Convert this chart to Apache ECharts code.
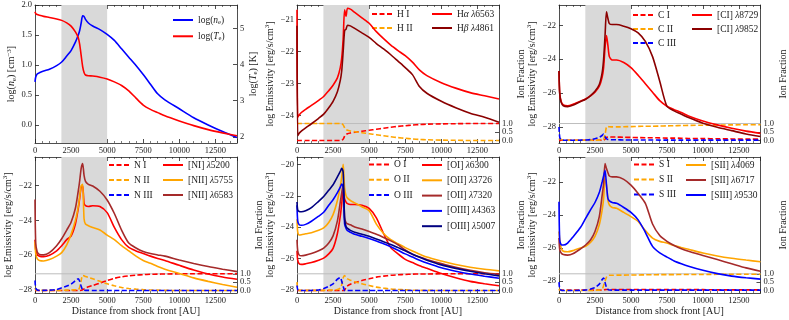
<!DOCTYPE html>
<html>
<head>
<meta charset="utf-8">
<script src="https://cdn.jsdelivr.net/npm/echarts@6/dist/echarts.min.js"></script>
<style>
  html, body { margin: 0; background: #fff; }
  #chart { width: 789px; height: 320px; }
</style>
</head>
<body>
<div id="chart"></div>
<script>
// distance from shock front [AU], shared by every curve
const dist = [0, 50, 150, 300, 600, 1000, 1500, 1850, 2200, 2500, 2800, 3000, 3100, 3200, 3300, 3400, 3500,
  3700, 4000, 4500, 5000, 5500, 6000, 6500, 7000, 7500, 8000, 8500, 9000, 10000, 11000, 12000, 13000, 14000];
const shade = [1830, 5000];

// panel 1: density / temperature
const logNe = [0.72, 0.80, 0.85, 0.87, 0.90, 0.93, 0.99, 1.05, 1.15, 1.24, 1.38, 1.50, 1.58, 1.70, 1.82, 1.81, 1.76,
  1.70, 1.65, 1.59, 1.51, 1.41, 1.27, 1.13, 0.99, 0.84, 0.68, 0.52, 0.42, 0.27, 0.12, 0.00, -0.11, -0.21];
const logTe = [5.46, 5.41, 5.38, 5.36, 5.33, 5.30, 5.26, 5.22, 5.15, 5.06, 4.90, 4.74, 4.55, 4.25, 3.95, 3.78, 3.71,
  3.69, 3.68, 3.65, 3.60, 3.52, 3.42, 3.27, 3.07, 2.88, 2.76, 2.67, 2.58, 2.44, 2.31, 2.20, 2.11, 2.03];

// hydrogen
const hI = [0, 0, 0, 0, 0, 0, 0, 0, 0, 0, 0, 0, 0.01, 0.08, 0.25, 0.35, 0.40,
  0.44, 0.48, 0.54, 0.60, 0.66, 0.72, 0.78, 0.83, 0.87, 0.91, 0.94, 0.96, 0.98, 0.99, 1, 1, 1];
const hII = [1, 1, 1, 1, 1, 1, 1, 1, 1, 1, 1, 1, 0.99, 0.92, 0.75, 0.65, 0.60,
  0.56, 0.52, 0.46, 0.40, 0.34, 0.28, 0.22, 0.17, 0.13, 0.09, 0.06, 0.04, 0.02, 0.01, 0, 0, 0];
const hAlpha = [-20.7, -24.05, -23.98, -23.9, -23.8, -23.68, -23.52, -23.4, -23.22, -23.05, -22.82, -22.5, -22.2, -21.6, -20.7, -20.9, -20.65,
  -20.68, -20.78, -20.95, -21.12, -21.38, -21.6, -21.8, -21.97, -22.13, -22.33, -22.58, -22.75, -22.97, -23.14, -23.28, -23.38, -23.48];
const hBeta = [-21.2, -24.62, -24.55, -24.48, -24.38, -24.25, -24.08, -23.95, -23.75, -23.55, -23.25, -22.9, -22.6, -22.0, -21.35, -21.3, -21.18,
  -21.2, -21.28, -21.42, -21.56, -21.75, -21.92, -22.1, -22.3, -22.5, -22.72, -23.1, -23.3, -23.55, -23.75, -23.92, -24.05, -24.2];

// carbon
const cI = [0, 0, 0.01, 0.01, 0.01, 0.01, 0.01, 0.01, 0.01, 0.01, 0.01, 0.01, 0.02, 0.08, 0.18, 0.2, 0.21,
  0.2, 0.2, 0.19, 0.18, 0.17, 0.16, 0.16, 0.15, 0.14, 0.14, 0.13, 0.12, 0.11, 0.1, 0.09, 0.08, 0.08];
const cII = [0.05, 0.1, 0.05, 0.02, 0.01, 0.01, 0.01, 0.01, 0.01, 0.01, 0.02, 0.03, 0.06, 0.35, 0.8, 0.82, 0.81,
  0.8, 0.8, 0.81, 0.82, 0.83, 0.84, 0.84, 0.85, 0.86, 0.87, 0.88, 0.89, 0.9, 0.91, 0.92, 0.93, 0.93];
const cIII = [0.8, 0.2, 0.03, 0.01, 0.01, 0.01, 0.02, 0.03, 0.05, 0.1, 0.18, 0.3, 0.38, 0.22, 0.1, 0.06, 0.05,
  0.04, 0.04, 0.03, 0.03, 0.03, 0.03, 0.03, 0.02, 0.02, 0.02, 0.02, 0.02, 0.02, 0.02, 0.02, 0.02, 0.02];
const cI8729 = [-24.7, -26.0, -26.5, -26.7, -26.75, -26.65, -26.48, -26.35, -26.15, -25.95, -25.6, -25.05, -24.5, -23.3, -22.6, -23.2, -23.85,
  -24.05, -24.05, -24.2, -24.5, -24.95, -25.45, -25.95, -26.45, -26.78, -26.98, -27.15, -27.35, -27.65, -27.88, -28.08, -28.25, -28.38];
const cI9852 = [-24.7, -26.05, -26.55, -26.75, -26.8, -26.7, -26.5, -26.37, -26.15, -25.9, -25.5, -24.8, -24.0, -22.6, -21.2, -21.6, -21.9,
  -21.95, -21.95, -22.05, -22.2, -22.45, -22.95, -23.85, -25.3, -26.78, -27.05, -27.25, -27.45, -27.78, -28.02, -28.22, -28.42, -28.57];

// nitrogen
const nI = [0, 0, 0, 0, 0, 0, 0, 0, 0, 0, 0, 0, 0, 0.01, 0.05, 0.1, 0.15,
  0.22, 0.3, 0.45, 0.6, 0.73, 0.82, 0.88, 0.92, 0.95, 0.97, 0.98, 0.99, 1, 1, 1, 1, 1];
const nII = [0.15, 0.05, 0.02, 0.01, 0.01, 0.01, 0.01, 0.01, 0.02, 0.03, 0.04, 0.05, 0.2, 0.6, 0.9, 0.88, 0.84,
  0.78, 0.7, 0.55, 0.4, 0.28, 0.18, 0.12, 0.08, 0.05, 0.03, 0.02, 0.01, 0, 0, 0, 0, 0];
const nIII = [0.6, 0.15, 0.03, 0.01, 0.01, 0.02, 0.06, 0.16, 0.27, 0.38, 0.59, 0.7, 0.55, 0.25, 0.04, 0.02, 0.01,
  0.01, 0, 0, 0, 0, 0, 0, 0, 0, 0, 0, 0, 0, 0, 0, 0, 0];
const nI5200 = [-25.1, -25.7, -25.95, -26.05, -26.08, -26.0, -25.75, -25.45, -25.1, -24.9, -24.2, -23.3, -22.7, -22.1, -22.0, -23.0, -23.15,
  -23.2, -23.15, -23.2, -23.55, -24.4, -25.1, -25.55, -25.75, -25.9, -26.05, -26.18, -26.3, -26.58, -26.85, -27.08, -27.25, -27.38];
const nII5755 = [-25.2, -25.9, -26.2, -26.3, -26.33, -26.25, -26.05, -25.85, -25.4, -24.8, -24.0, -23.2, -22.6, -22.0, -21.92, -23.9, -24.2,
  -24.3, -24.4, -24.55, -24.84, -25.1, -25.45, -25.75, -26.05, -26.3, -26.46, -26.65, -26.8, -27.05, -27.3, -27.5, -27.68, -27.84];
const nII6583 = [-22.8, -25.3, -25.8, -25.95, -25.98, -25.85, -25.45, -25.05, -24.55, -24.1, -23.3, -22.3, -21.7, -21.0, -20.72, -21.4, -21.75,
  -21.92, -22.02, -22.32, -22.82, -23.6, -24.55, -25.3, -25.58, -25.78, -25.9, -25.98, -26.05, -26.27, -26.47, -26.65, -26.8, -26.94];

// oxygen
const oI = [0, 0, 0, 0, 0, 0, 0, 0, 0, 0, 0, 0, 0, 0, 0.02, 0.2, 0.28,
  0.37, 0.47, 0.6, 0.7, 0.8, 0.86, 0.91, 0.94, 0.96, 0.98, 0.99, 0.99, 1, 1, 1, 1, 1];
const oII = [0.5, 0.1, 0.02, 0.01, 0.01, 0.01, 0.01, 0.01, 0.02, 0.03, 0.06, 0.15, 0.35, 0.75, 0.9, 0.78, 0.7,
  0.62, 0.52, 0.4, 0.3, 0.2, 0.14, 0.09, 0.06, 0.04, 0.02, 0.01, 0.01, 0, 0, 0, 0, 0];
const oIII = [0.3, 0.05, 0.01, 0, 0, 0.01, 0.03, 0.12, 0.25, 0.4, 0.68, 0.78, 0.55, 0.25, 0.01, 0, 0,
  0, 0, 0, 0, 0, 0, 0, 0, 0, 0, 0, 0, 0, 0, 0, 0, 0];
const oI6300 = [-25.5, -26.1, -26.33, -26.37, -26.33, -26.25, -26.1, -25.97, -25.7, -25.35, -24.4, -23.3, -22.5, -21.6, -22.2, -22.4, -22.5,
  -22.55, -22.55, -22.6, -22.8, -23.4, -24.4, -25.3, -25.7, -26.05, -26.25, -26.45, -26.62, -26.95, -27.22, -27.45, -27.6, -27.73];
const oII3726 = [-23.5, -24.3, -24.5, -24.48, -24.42, -24.35, -24.2, -24.05, -23.7, -23.2, -22.3, -21.4, -20.8, -20.0, -21.5, -22.0, -22.15,
  -22.3, -22.45, -22.7, -22.95, -23.8, -24.4, -24.8, -25.05, -25.3, -25.52, -25.72, -25.9, -26.15, -26.38, -26.55, -26.68, -26.78];
const oII7320 = [-24.8, -25.5, -25.78, -25.82, -25.78, -25.68, -25.5, -25.33, -25.0, -24.55, -23.6, -22.4, -21.8, -21.25, -23.4, -23.7, -23.78,
  -23.85, -23.98, -24.12, -24.28, -24.45, -24.65, -24.87, -25.12, -25.45, -25.72, -25.9, -26.05, -26.32, -26.56, -26.75, -26.9, -27.0];
const oIII4363 = [-22.6, -23.6, -23.85, -23.88, -23.82, -23.62, -23.3, -23.05, -22.6, -22.25, -21.8, -21.45, -21.25, -21.45, -23.8, -24.08, -24.22,
  -24.32, -24.45, -24.58, -24.72, -24.88, -25.05, -25.25, -25.47, -25.7, -25.9, -26.1, -26.28, -26.58, -26.8, -26.98, -27.12, -27.25];
const oIII5007 = [-22.4, -22.9, -23.0, -23.02, -22.95, -22.75, -22.35, -22.05, -21.65, -21.3, -20.8, -20.45, -20.25, -20.5, -23.5, -23.95, -24.08,
  -24.2, -24.32, -24.45, -24.58, -24.75, -24.92, -25.1, -25.3, -25.5, -25.72, -25.92, -26.1, -26.4, -26.62, -26.8, -26.96, -27.1];

// sulphur
const sI = [0.04, 0.03, 0.02, 0.02, 0.02, 0.02, 0.02, 0.02, 0.02, 0.02, 0.02, 0.02, 0.03, 0.05, 0.06, 0.06, 0.06,
  0.06, 0.06, 0.06, 0.06, 0.06, 0.06, 0.05, 0.05, 0.05, 0.05, 0.05, 0.05, 0.05, 0.04, 0.04, 0.04, 0.04];
const sII = [0.1, 0.03, 0.01, 0, 0, 0, 0, 0, 0, 0.01, 0.02, 0.08, 0.3, 0.55, 0.8, 0.9, 0.91,
  0.91, 0.92, 0.92, 0.93, 0.93, 0.94, 0.94, 0.95, 0.95, 0.95, 0.96, 0.96, 0.96, 0.97, 0.97, 0.97, 0.97];
const sIII = [0.5, 0.1, 0.02, 0, 0, 0, 0.01, 0.03, 0.09, 0.18, 0.38, 0.66, 0.75, 0.48, 0.18, 0.06, 0.03,
  0.02, 0.02, 0.02, 0.02, 0.02, 0.02, 0.02, 0.02, 0.02, 0.02, 0.02, 0.02, 0.02, 0.02, 0.02, 0.02, 0.02];
const sII4069 = [-25.0, -25.5, -26.0, -26.2, -26.23, -26.15, -26.0, -25.9, -25.65, -25.3, -24.6, -23.7, -23.0, -21.8, -22.2, -23.1, -23.4,
  -23.55, -23.6, -23.85, -24.1, -24.4, -24.95, -25.4, -25.6, -25.7, -25.85, -25.97, -26.08, -26.3, -26.48, -26.62, -26.73, -26.83];
const sII6717 = [-25.4, -26.1, -26.3, -26.4, -26.43, -26.33, -26.05, -25.82, -25.5, -25.0, -24.1, -22.8, -22.1, -20.9, -21.2, -21.45, -21.65,
  -21.7, -21.7, -21.85, -22.2, -22.7, -23.3, -24.55, -25.25, -25.6, -25.85, -26.05, -26.2, -26.45, -26.7, -26.95, -27.2, -27.4];
const sIII9530 = [-23.2, -25.5, -25.8, -25.82, -25.7, -25.3, -24.75, -24.21, -23.68, -23.25, -22.65, -22.0, -21.65, -21.3, -22.2, -23.0, -23.15,
  -23.25, -23.3, -23.55, -23.85, -24.3, -25.05, -25.9, -26.3, -26.55, -26.78, -26.95, -27.1, -27.35, -27.55, -27.7, -27.8, -27.88];

const ionTicks = [0, 0.5, 1];

const FONT = "'Liberation Serif', 'DejaVu Serif', serif";
const INK = '#222';
const RED = '#ff0000', ORANGE = '#ffa500', BLUE = '#0000ff', BROWN = '#a52a2a', DARKRED = '#8b0000', NAVY = '#000080';

const grids = [
  {left: 35, top: 5, width: 202, height: 138},
  {left: 297, top: 5, width: 202, height: 138},
  {left: 559, top: 5, width: 202, height: 138},
  {left: 35, top: 157, width: 202, height: 136},
  {left: 297, top: 157, width: 202, height: 136},
  {left: 559, top: 157, width: 202, height: 136}
];

function richSet(size) {
  return {
    i: {fontFamily: FONT, fontSize: size, fontStyle: 'italic', color: INK},
    s: {fontFamily: FONT, fontSize: size * 0.7, padding: [size * 0.5, 0, 0, 0], color: INK},
    p: {fontFamily: FONT, fontSize: size * 0.7, padding: [0, 0, size * 0.5, 0], color: INK}
  };
}
const minus = v => String(v).replace('-', '\u2212');
const lineStyle = {color: INK, width: 0.8};

function xAxesFor(i, withName) {
  const base = {
    type: 'value', gridIndex: i, min: 0, max: 14000, interval: 2500,
    axisLine: {show: true, onZero: false, lineStyle},
    axisTick: {show: true, inside: true, length: 4, lineStyle},
    minorTick: {show: true, splitNumber: 5, length: 2, lineStyle: {color: INK, width: 0.6}},
    splitLine: {show: false}
  };
  return [
    Object.assign({}, base, {
      position: 'bottom',
      axisLabel: {color: INK, fontFamily: FONT, fontSize: 8.5, margin: 3, showMaxLabel: false,
        formatter: v => String(v)},
      name: withName ? 'Distance from shock front [AU]' : '',
      nameLocation: 'middle', nameGap: 12,
      nameTextStyle: {color: INK, fontFamily: FONT, fontSize: 10}
    }),
    Object.assign({}, base, {position: 'top', axisLabel: {show: false}})
  ];
}

function yAxisFor(i, pos, min, max, ticks, fmt, name, gap, labels) {
  return {
    type: 'value', gridIndex: i, position: pos, min, max,
    axisLine: {show: true, onZero: false, lineStyle},
    axisTick: {show: true, inside: true, length: 4, customValues: ticks, lineStyle},
    axisLabel: {customValues: labels || ticks, formatter: fmt, color: INK, fontFamily: FONT, fontSize: 8.5, margin: 3,
      hideOverlap: false, showMinLabel: true, showMaxLabel: true},
    splitLine: {show: false},
    name, nameLocation: 'middle', nameGap: gap, nameRotate: 90,
    nameTextStyle: {color: INK, fontFamily: FONT, fontSize: 10, rich: richSet(10)}
  };
}

// label-only twin of the ion axis, so the middle "0.5" is not dropped as an overlap
function ionMidLabel(i) {
  return {
    type: 'value', gridIndex: i, position: 'right', min: -0.15, max: 8,
    axisLine: {show: false}, axisTick: {show: false}, splitLine: {show: false},
    axisLabel: {customValues: [ionTicks[1]], formatter: v => v.toFixed(1), color: INK, fontFamily: FONT,
      fontSize: 8.5, margin: 3, showMinLabel: true, showMaxLabel: true}
  };
}

function curve(name, vals, color, xi, yi, dashed) {
  return {
    type: 'line', name, xAxisIndex: xi, yAxisIndex: yi,
    data: dist.map((d, k) => [d, vals[k]]),
    symbol: 'none', smooth: 0.25,
    lineStyle: {color, width: 1.6, type: dashed ? [5, 2.5] : 'solid'},
    itemStyle: {color}, z: dashed ? 3 : 4, silent: true
  };
}

function backdrop(xi, yi, level, visible) {
  return {
    type: 'line', xAxisIndex: xi, yAxisIndex: yi, silent: true, symbol: 'none', z: 2,
    data: [[0, level], [14000, level]],
    lineStyle: {color: '#bdbdbd', width: 1, opacity: visible ? 1 : 0},
    markArea: {silent: true, itemStyle: {color: '#d9d9d9'}, data: [[{xAxis: shade[0]}, {xAxis: shade[1]}]]}
  };
}

const legendLabel = {
  'log(n_e)': 'log({i|n}{s|e})',
  'log(T_e)': 'log({i|T}{s|e})'
};
function legendFor(names, left, top, gap) {
  return {
    orient: 'vertical', left, top, itemWidth: 20, itemHeight: 8, itemGap: gap,
    selectedMode: false, data: names, padding: 0,
    itemStyle: {opacity: 0},
    textStyle: {color: INK, fontFamily: FONT, fontSize: 9.5, rich: richSet(9.5)},
    formatter: n => legendLabel[n] || n.replace(/([αβλ])/g, '{i|$1}')
  };
}

const panels = [
  {g: 1, min: -24.85, max: -20.55, ticks: [-24, -23, -22, -21],
    ions: [['H I', hI, RED], ['H II', hII, ORANGE]],
    lines: [['Hα λ6563', hAlpha, RED], ['Hβ λ4861', hBeta, DARKRED]],
    legIon: [371, 9], legLine: [431, 9], gap: 4},
  {g: 2, min: -28.95, max: -20.8, ticks: [-28, -26, -24, -22],
    ions: [['C I', cI, RED], ['C II', cII, ORANGE], ['C III', cIII, BLUE]],
    lines: [['[CI] λ8729', cI8729, RED], ['[CI] λ9852', cI9852, DARKRED]],
    legIon: [632, 10], legLine: [691, 10], gap: 4},
  {g: 3, min: -28.17, max: -20.35, ticks: [-28, -26, -24, -22],
    ions: [['N I', nI, RED], ['N II', nII, ORANGE], ['N III', nIII, BLUE]],
    lines: [['[NI] λ5200', nI5200, RED], ['[NII] λ5755', nII5755, ORANGE], ['[NII] λ6583', nII6583, BROWN]],
    legIon: [108, 160], legLine: [162, 160], gap: 5},
  {g: 4, min: -28.19, max: -19.53, ticks: [-28, -26, -24, -22, -20],
    ions: [['O I', oI, RED], ['O II', oII, ORANGE], ['O III', oIII, BLUE]],
    lines: [['[OI] λ6300', oI6300, RED], ['[OII] λ3726', oII3726, ORANGE], ['[OII] λ7320', oII7320, BROWN],
      ['[OIII] λ4363', oIII4363, BLUE], ['[OIII] λ5007', oIII5007, NAVY]],
    legIon: [368, 159.5], legLine: [421, 160], gap: 5.3},
  {g: 5, min: -28.72, max: -20.5, ticks: [-28, -26, -24, -22],
    ions: [['S I', sI, RED], ['S II', sII, ORANGE], ['S III', sIII, BLUE]],
    lines: [['[SII] λ4069', sII4069, ORANGE], ['[SII] λ6717', sII6717, BROWN], ['[SIII] λ9530', sIII9530, BLUE]],
    legIon: [633, 159.5], legLine: [685, 160], gap: 5}
];

const option = {
  animation: false,
  backgroundColor: '#fff',
  textStyle: {fontFamily: FONT},
  grid: grids,
  xAxis: [], yAxis: [], legend: [], series: []
};

grids.forEach((g, i) => option.xAxis.push(...xAxesFor(i, i >= 3)));

// panel 1: electron density and temperature
option.yAxis.push(
  yAxisFor(0, 'left', -0.3, 2.0, [0, 0.5, 1, 1.5, 2], v => minus(v.toFixed(1)), 'log({i|n}{s|e}) [cm{p|\u22123}]', 16),
  yAxisFor(0, 'right', 1.83, 5.645, [2, 3, 4, 5], v => String(v), 'log({i|T}{s|e}) [K]', 8)
);
option.series.push(
  backdrop(0, 0, 0, false),
  curve('log(n_e)', logNe, BLUE, 0, 0, false),
  curve('log(T_e)', logTe, RED, 0, 1, false)
);
option.legend.push(legendFor(['log(n_e)', 'log(T_e)'], 172, 15, 5.4));

// emissivity panels with ion fractions on a twin axis
panels.forEach(p => {
  const yl = option.yAxis.length;
  option.yAxis.push(
    yAxisFor(p.g, 'left', p.min, p.max, p.ticks, v => minus(v), 'log Emissivity [erg/s/cm{p|3}]', 21),
    yAxisFor(p.g, 'right', -0.15, 8, ionTicks, v => v.toFixed(1), 'Ion Fraction', 15, [ionTicks[0], ionTicks[2]]),
    ionMidLabel(p.g)
  );
  const xi = 2 * p.g;
  option.series.push(backdrop(xi, yl + 1, 1, true));
  p.ions.forEach(([n, v, c]) => option.series.push(curve(n, v, c, xi, yl + 1, true)));
  p.lines.forEach(([n, v, c]) => option.series.push(curve(n, v, c, xi, yl, false)));
  option.legend.push(
    legendFor(p.ions.map(s => s[0]), p.legIon[0], p.legIon[1], p.gap),
    legendFor(p.lines.map(s => s[0]), p.legLine[0], p.legLine[1], p.gap)
  );
});

const chart = echarts.init(document.getElementById('chart'), null, {renderer: 'canvas'});
chart.setOption(option);
</script>
</body>
</html>
